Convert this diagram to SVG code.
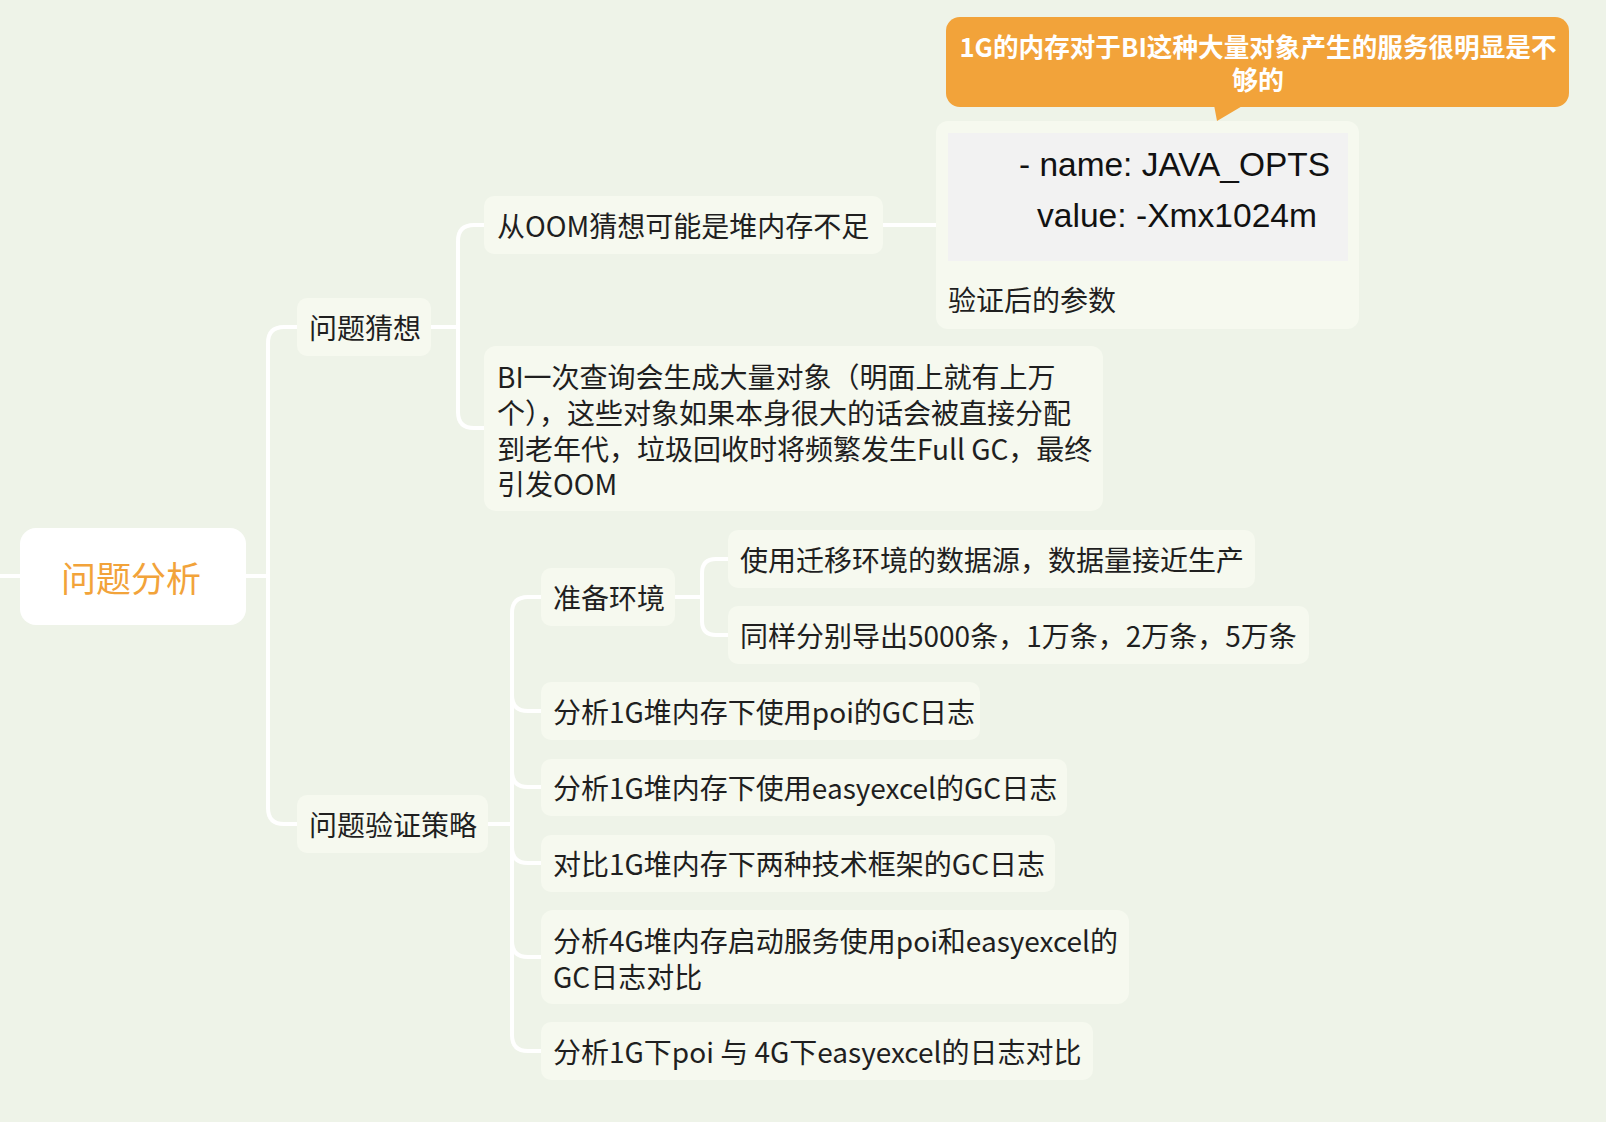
<svg xmlns="http://www.w3.org/2000/svg" width="1606" height="1122" viewBox="0 0 1606 1122">
<style>
.bg{fill:#EEF3E8}
.node{fill:#F6F9EF}
.t{font-family:"Noto Sans CJK SC","Noto Sans",sans-serif;font-size:28px;fill:#1F1F1F;dominant-baseline:central}
.root{font-family:"Noto Sans CJK SC","Noto Sans",sans-serif;font-size:35px;fill:#F2A33A;dominant-baseline:central;text-anchor:middle}
.code{font-family:"Liberation Sans",Arial,sans-serif;font-size:34px;fill:#111111;dominant-baseline:central}
.call{font-family:"Noto Sans CJK SC","Noto Sans",sans-serif;font-size:26px;font-weight:bold;fill:#FFFFFF;dominant-baseline:central;text-anchor:middle}
.conn{fill:none;stroke:#FFFFFF;stroke-width:4;stroke-linecap:round}
</style>
<rect class="bg" x="0" y="0" width="1606" height="1122"/>
<g id="connectors">
<path class="conn" d="M0,576 H20"/>
<path class="conn" d="M246,576 H268"/>
<path class="conn" d="M297,327 H284 Q268,327 268,343 V808 Q268,824 284,824 H297"/>
<path class="conn" d="M431,327 H458"/>
<path class="conn" d="M484,225 H474 Q458,225 458,241 V412 Q458,428 474,428 H484"/>
<path class="conn" d="M883,225 H936"/>
<path class="conn" d="M488,824 H512"/>
<path class="conn" d="M541,597 H528 Q512,597 512,613 V1035 Q512,1051 528,1051 H541"/>
<path class="conn" d="M512,695 Q512,711 528,711 H541"/>
<path class="conn" d="M512,771 Q512,787 528,787 H541"/>
<path class="conn" d="M512,847 Q512,863 528,863 H541"/>
<path class="conn" d="M512,941 Q512,957 528,957 H541"/>
<path class="conn" d="M675,597 H702"/>
<path class="conn" d="M728,559 H716 Q702,559 702,573 V621 Q702,635 716,635 H728"/>
</g>
<g id="root">
<rect x="20" y="528" width="226" height="97" rx="16" fill="#FFFFFF"/>
<text class="root" x="131" y="576">问题分析</text>
</g>
<g id="n-guess">
<rect class="node" x="297" y="298" width="134" height="58" rx="10"/>
<text class="t" x="309" y="327">问题猜想</text>
</g>
<g id="n-oom">
<rect class="node" x="484" y="196" width="399" height="58" rx="10"/>
<text class="t" x="497" y="225">从OOM猜想可能是堆内存不足</text>
</g>
<g id="n-params">
<rect class="node" x="936" y="121" width="423" height="208" rx="12"/>
<rect x="948" y="133" width="400" height="128" fill="#F2F2F2"/>
<text class="code" x="1019" y="164" textLength="311" lengthAdjust="spacingAndGlyphs">- name: JAVA_OPTS</text>
<text class="code" x="1037" y="215" textLength="280" lengthAdjust="spacingAndGlyphs">value: -Xmx1024m</text>
<text class="t" x="948" y="299">验证后的参数</text>
</g>
<g id="callout">
<rect x="946" y="17" width="623" height="90" rx="14" fill="#F2A33A"/>
<path d="M1214,105 L1244,105 L1217,121 Z" fill="#F2A33A"/>
<text class="call" x="1258" y="45" textLength="597" lengthAdjust="spacingAndGlyphs">1G的内存对于BI这种大量对象产生的服务很明显是不</text>
<text class="call" x="1258" y="78">够的</text>
</g>
<g id="n-bi">
<rect class="node" x="484" y="346" width="619" height="165" rx="12"/>
<text class="t" x="497" y="376">BI一次查询会生成大量对象（明面上就有上万</text>
<text class="t" x="497" y="412">个），这些对象如果本身很大的话会被直接分配</text>
<text class="t" x="497" y="448">到老年代，垃圾回收时将频繁发生Full GC，最终</text>
<text class="t" x="497" y="483">引发OOM</text>
</g>
<g id="n-verify">
<rect class="node" x="297" y="795" width="191" height="58" rx="10"/>
<text class="t" x="309" y="824">问题验证策略</text>
</g>
<g id="n-env">
<rect class="node" x="541" y="568" width="134" height="58" rx="10"/>
<text class="t" x="553" y="597">准备环境</text>
</g>
<g id="n-env1">
<rect class="node" x="728" y="530" width="527" height="58" rx="10"/>
<text class="t" x="740" y="559">使用迁移环境的数据源，数据量接近生产</text>
</g>
<g id="n-env2">
<rect class="node" x="728" y="606" width="581" height="58" rx="10"/>
<text class="t" x="740" y="635">同样分别导出5000条，1万条，2万条，5万条</text>
</g>
<g id="n-s1">
<rect class="node" x="541" y="682" width="439" height="58" rx="10"/>
<text class="t" x="553" y="711">分析1G堆内存下使用poi的GC日志</text>
</g>
<g id="n-s2">
<rect class="node" x="541" y="759" width="526" height="57" rx="10"/>
<text class="t" x="553" y="787">分析1G堆内存下使用easyexcel的GC日志</text>
</g>
<g id="n-s3">
<rect class="node" x="541" y="835" width="514" height="57" rx="10"/>
<text class="t" x="553" y="863">对比1G堆内存下两种技术框架的GC日志</text>
</g>
<g id="n-s4">
<rect class="node" x="541" y="910" width="588" height="94" rx="12"/>
<text class="t" x="553" y="940">分析4G堆内存启动服务使用poi和easyexcel的</text>
<text class="t" x="553" y="976">GC日志对比</text>
</g>
<g id="n-s5">
<rect class="node" x="541" y="1022" width="552" height="58" rx="10"/>
<text class="t" x="553" y="1051">分析1G下poi 与 4G下easyexcel的日志对比</text>
</g>
</svg>
